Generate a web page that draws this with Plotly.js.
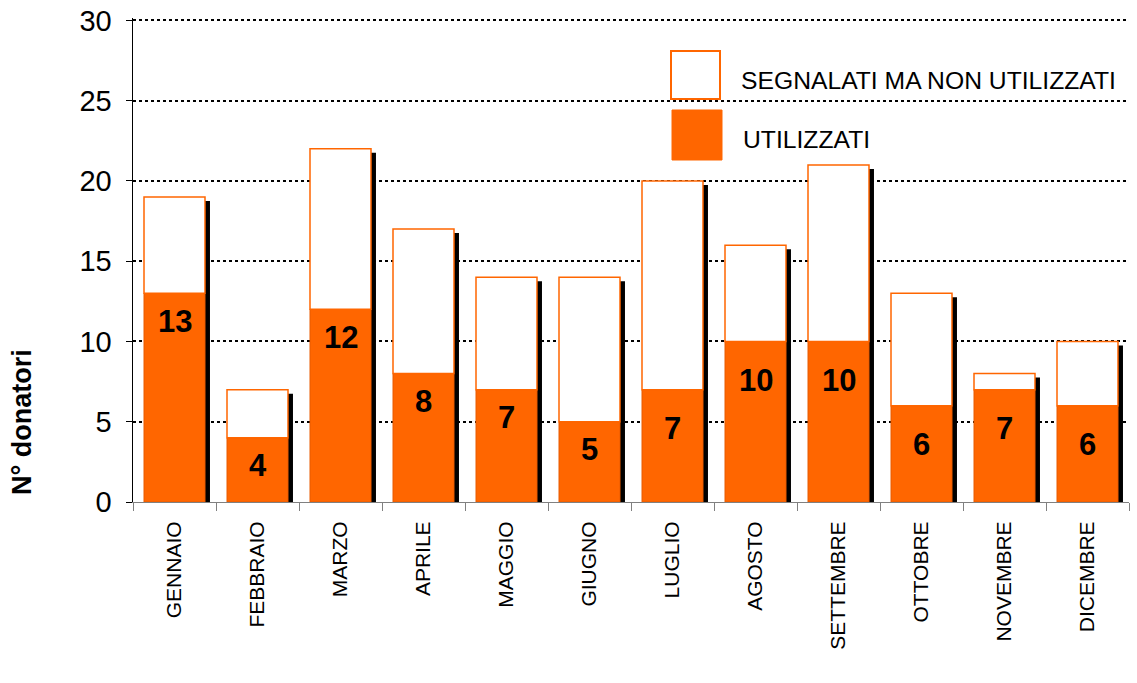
<!DOCTYPE html>
<html>
<head>
<meta charset="utf-8">
<script src="https://cdn.plot.ly/plotly-3.0.1.min.js"></script>
<style>html,body{margin:0;padding:0;background:#fff;}#chart{width:1137px;height:683px;}</style>
</head>
<body>
<div id="chart"></div>
<script>
// ---- data ----
const months = ["GENNAIO","FEBBRAIO","MARZO","APRILE","MAGGIO","GIUGNO","LUGLIO","AGOSTO","SETTEMBRE","OTTOBRE","NOVEMBRE","DICEMBRE"];
const utilizzati = [13, 4, 12, 8, 7, 5, 7, 10, 10, 6, 7, 6];
const totaleSegnalati = [19, 7, 22, 17, 14, 14, 20, 16, 21, 13, 8, 10];
const nonUtilizzati = totaleSegnalati.map((t, i) => t - utilizzati[i]);
const seriesNames = ["SEGNALATI MA NON UTILIZZATI", "UTILIZZATI"];
const yTitle = "N° donatori";

// ---- layout helpers (pixel geometry of plot area) ----
const W = 1137, H = 683;
const M = {l: 133, r: 8, t: 18, b: 181};
const PW = W - M.l - M.r, PH = H - M.t - M.b;
const px = x => (x - M.l) / PW;
const py = y => (H - M.b - y) / PH;

const ORANGE = "#FF6600";
const BW = 0.735;
const OFF = -BW / 2;

const shadow = {
  type: "bar", x: months, y: totaleSegnalati, base: -0.25,
  width: BW, offset: OFF + 0.06,
  marker: {color: "#000000", line: {width: 0}},
  cliponaxis: false, hoverinfo: "skip", showlegend: false
};
const used = {
  type: "bar", name: seriesNames[1], x: months, y: utilizzati,
  width: BW, offset: OFF,
  marker: {color: ORANGE, line: {color: "#E85A00", width: 1}},
  showlegend: false
};
const notUsed = {
  type: "bar", name: seriesNames[0], x: months, y: nonUtilizzati, base: utilizzati,
  width: BW, offset: OFF,
  marker: {color: "#FFFFFF", line: {color: ORANGE, width: 1.5}},
  showlegend: false
};

const annotations = months.map((m, i) => ({
  x: m, y: utilizzati[i], xref: "x", yref: "y",
  text: String(utilizzati[i]), showarrow: false,
  yanchor: "middle", yshift: i < 6 ? -28 : -39,
  font: {family: "Arial, Liberation Sans, sans-serif", size: 31, color: "#000", weight: "bold"}
}));
annotations.push({
  xref: "paper", yref: "paper", x: px(22), y: py(422), textangle: -90,
  text: "<b>" + yTitle + "</b>", showarrow: false, xanchor: "center", yanchor: "middle",
  font: {family: "Arial, Liberation Sans, sans-serif", size: 27, color: "#000"}
});
annotations.push({
  xref: "paper", yref: "paper", x: px(739), y: py(80), xanchor: "left", yanchor: "middle",
  text: seriesNames[0], showarrow: false,
  font: {family: "Arial, Liberation Sans, sans-serif", size: 24.7, color: "#000"}
});
annotations.push({
  xref: "paper", yref: "paper", x: px(741), y: py(139), xanchor: "left", yanchor: "middle",
  text: seriesNames[1], showarrow: false,
  font: {family: "Arial, Liberation Sans, sans-serif", size: 24.7, color: "#000"}
});

const shapes = [
  {type: "rect", xref: "paper", yref: "paper", x0: px(671), x1: px(720), y0: py(99), y1: py(51),
   fillcolor: "#FFFFFF", line: {color: ORANGE, width: 2}, layer: "above"},
  {type: "rect", xref: "paper", yref: "paper", x0: px(672), x1: px(722), y0: py(160), y1: py(110),
   fillcolor: ORANGE, line: {color: ORANGE, width: 1}, layer: "above"}
];

const layout = {
  width: W, height: H,
  margin: M,
  paper_bgcolor: "#fff", plot_bgcolor: "#fff",
  barmode: "overlay",
  showlegend: false,
  font: {family: "Arial, Liberation Sans, sans-serif", color: "#000"},
  xaxis: {
    type: "category", range: [-0.5, 11.5],
    tickangle: -90, tickson: "boundaries", ticks: "outside", ticklen: 8, tickcolor: "#808080",
    showline: true, linecolor: "#808080", linewidth: 1,
    tickfont: {family: "Arial, Liberation Sans, sans-serif", size: 21, color: "#000"},
    ticklabelstandoff: 10,
    showgrid: false, zeroline: false, fixedrange: true
  },
  yaxis: {
    range: [0, 30.15], dtick: 5, tick0: 0,
    ticks: "outside", ticklen: 6, tickcolor: "#000",
    showline: true, linecolor: "#000", linewidth: 1.5,
    tickfont: {family: "Arial, Liberation Sans, sans-serif", size: 29, color: "#000"},
    ticklabelstandoff: 8,
    showgrid: true, gridcolor: "#000", gridwidth: 2, griddash: "dot",
    zeroline: false, fixedrange: true
  },
  annotations: annotations,
  shapes: shapes
};

Plotly.newPlot("chart", [shadow, used, notUsed], layout, {displayModeBar: false, staticPlot: true});
</script>
</body>
</html>
